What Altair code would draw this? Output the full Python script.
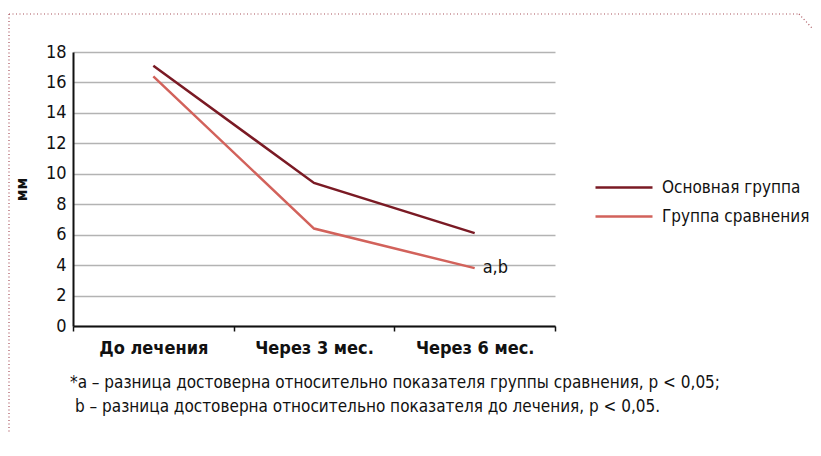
import altair as alt
import pandas as pd

periods = ["До лечения", "Через 3 мес.", "Через 6 мес."]
series_names = ["Основная группа", "Группа сравнения"]
main_vals = [17.1, 9.4, 6.1]
comp_vals = [16.4, 6.4, 3.8]
y_ticks = [0, 2, 4, 6, 8, 10, 12, 14, 16, 18]
note_text = "a,b"
footnote_1 = "*a – разница достоверна относительно показателя группы сравнения, p < 0,05;"
footnote_2 = "b – разница достоверна относительно показателя до лечения, p < 0,05."

rows = []
for p, v in zip(periods, main_vals):
    rows.append({"period": p, "series": series_names[0], "value": v})
for p, v in zip(periods, comp_vals):
    rows.append({"period": p, "series": series_names[1], "value": v})
df = pd.DataFrame(rows)
note_df = pd.DataFrame([{"period": periods[-1], "value": comp_vals[-1], "label": note_text}])

FONT = "DejaVu Sans Condensed"
W, H = 482, 274

x_enc = alt.X("period:N", sort=periods, scale=alt.Scale(paddingInner=0, paddingOuter=0),
              axis=alt.Axis(title=None, labelAngle=0, labelFontSize=18, labelFontWeight="bold",
                            labelColor="#111", labelPadding=8, domainColor="#111", domainWidth=2,
                            tickBand="extent", tickColor="#111", tickWidth=1.5, tickSize=5,
                            grid=False))
y_enc = alt.Y("value:Q", scale=alt.Scale(domain=[0, 18], nice=False),
              axis=alt.Axis(title="мм", values=y_ticks, labelOverlap=False, labelFontSize=18,
                            labelColor="#111", labelPadding=7, ticks=False, domainColor="#111",
                            domainWidth=2, gridColor="#b3b3b3", gridWidth=1.5, titleFontSize=16,
                            titleFontWeight="bold", titleColor="#111", titlePadding=16))

lines = alt.Chart(df).mark_line(strokeWidth=2.5).encode(
    x=x_enc, y=y_enc,
    color=alt.Color("series:N", sort=series_names,
                    scale=alt.Scale(domain=series_names, range=["#7a1a24", "#d2625b"]),
                    legend=alt.Legend(title=None, orient="none", legendX=521, legendY=115,
                                      symbolType="M-1,0H2", symbolSize=1444,
                                      symbolStrokeWidth=2.5,
                                      labelFontSize=17, labelColor="#111", labelOffset=27,
                                      labelFont=FONT, rowPadding=-10)),
)

note = alt.Chart(note_df).mark_text(align="left", baseline="middle", dx=8, fontSize=18,
                                     color="#111", font=FONT).encode(
    x=alt.X("period:N", sort=periods), y=y_enc, text="label:N")

fn1 = alt.Chart(pd.DataFrame([{"t": footnote_1}])).mark_text(
    align="left", baseline="middle", fontSize=17, color="#111", font=FONT).encode(
    x=alt.value(-3), y=alt.value(331), text="t:N")
fn2 = alt.Chart(pd.DataFrame([{"t": footnote_2}])).mark_text(
    align="left", baseline="middle", fontSize=17, color="#111", font=FONT).encode(
    x=alt.value(2), y=alt.value(355), text="t:N")

frame_style = dict(color="#a8505a", strokeDash=[1, 2.5], strokeWidth=1.2)
top_rule = alt.Chart(pd.DataFrame([{"k": 0}])).mark_rule(**frame_style).encode(
    x=alt.value(-64), x2=alt.value(726), y=alt.value(-38))
top_corner = alt.Chart(pd.DataFrame([{"k": 0}])).mark_rule(**frame_style).encode(
    x=alt.value(726), x2=alt.value(739), y=alt.value(-38), y2=alt.value(-24))
left_rule = alt.Chart(pd.DataFrame([{"k": 0}])).mark_rule(**frame_style).encode(
    x=alt.value(-64), y=alt.value(-38), y2=alt.value(380))

chart = alt.layer(top_rule, top_corner, left_rule, lines, note, fn1, fn2).properties(
    width=W, height=H,
    autosize=alt.AutoSizeParams(type="none"),
    padding={"left": 65, "top": 44, "right": 258, "bottom": 122},
).configure(font=FONT).configure_view(stroke=None)

chart.save("out.html", embed_options={"renderer": "svg", "actions": False})
